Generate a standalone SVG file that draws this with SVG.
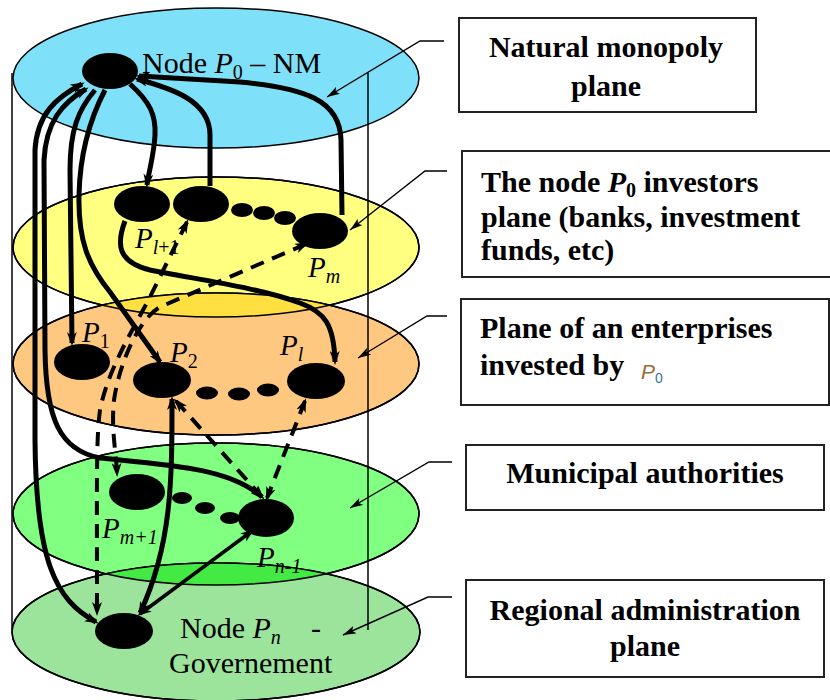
<svg xmlns="http://www.w3.org/2000/svg" width="830" height="700" viewBox="0 0 830 700">
<style>
.pl{stroke:#000;stroke-width:1.5}
.edge{fill:none;stroke:#000;stroke-width:1.5}
.nd{fill:#000}
.c{fill:none;stroke:#000;stroke-width:5}
.d{fill:none;stroke:#000;stroke-width:4;stroke-dasharray:14 9}
.ld{fill:none;stroke:#000;stroke-width:1.4}
.bx{fill:#fff;stroke:#222;stroke-width:2}
.t{font-family:"Liberation Serif","Times New Roman",serif;font-size:30px;fill:#000}
.p{font-family:"Liberation Serif","Times New Roman",serif;font-size:29px;fill:#000}
.b{font-family:"Liberation Serif","Times New Roman",serif;font-size:30px;font-weight:bold;fill:#000}
.i{font-style:italic}
</style>
<defs>
<marker id="ah" viewBox="0 0 14 10" refX="11" refY="5" markerWidth="14" markerHeight="10" markerUnits="userSpaceOnUse" orient="auto-start-reverse"><path d="M0,0 L14,5 L0,10 L4,5 z" fill="#000"/></marker>
<marker id="la" viewBox="0 0 13 8" refX="13" refY="4" markerWidth="13" markerHeight="8" markerUnits="userSpaceOnUse" orient="auto"><path d="M0,0 L13,4 L0,8 L3,4 z" fill="#000"/></marker>
<clipPath id="clipY"><ellipse cx="216" cy="247" rx="203" ry="70"/></clipPath>
<clipPath id="clipG"><ellipse cx="216" cy="514" rx="203" ry="71"/></clipPath>
</defs>

<g id="planes">
<ellipse id="plane-nm" class="pl" cx="216" cy="78" rx="203" ry="70" fill="#7FE0F9"/>
<ellipse id="plane-investors" class="pl" cx="216" cy="247" rx="203" ry="70" fill="#FFFF80"/>
<ellipse id="plane-enterprises" class="pl" cx="216" cy="364" rx="203" ry="71" fill="#FFC880"/>
<ellipse cx="216" cy="364" rx="203" ry="71" fill="#FFE040" clip-path="url(#clipY)"/>
<ellipse class="edge" cx="216" cy="247" rx="203" ry="70"/>
<ellipse class="edge" cx="216" cy="364" rx="203" ry="71"/>
<ellipse id="plane-municipal" class="pl" cx="216" cy="514" rx="203" ry="71" fill="#80FF80"/>
<ellipse id="plane-regional" class="pl" cx="216" cy="632" rx="204" ry="69" fill="#9CE39C"/>
<ellipse cx="216" cy="632" rx="204" ry="69" fill="#44EA44" clip-path="url(#clipG)"/>
<ellipse class="edge" cx="216" cy="514" rx="203" ry="71"/>
<ellipse class="edge" cx="216" cy="632" rx="204" ry="69"/>
<line class="edge" x1="12" y1="73" x2="12" y2="630"/>
<line class="edge" x1="368" y1="73" x2="368" y2="630"/>
</g>

<g id="connectors">
<path class="c" d="M130,84 C150,102 156,115 155,135 C154,155 149,170 147,185" marker-end="url(#ah)"/>
<path class="c" d="M210,186 L210,135 C210,100 170,88 137,79" marker-end="url(#ah)"/>
<path class="c" d="M342,215 L341,140 C340,100 305,88 240,82 L139,76" marker-end="url(#ah)"/>
<path class="c" d="M82,84 C55,98 37,115 35,150 L35,440 C36,560 55,600 96,622" marker-start="url(#ah)" marker-end="url(#ah)"/>
<path class="c" d="M86,89 C62,103 46,122 44,160 L45,350 C46,420 60,450 100,458 C170,465 230,468 262,497" marker-start="url(#ah)" marker-end="url(#ah)"/>
<path class="c" d="M95,90 C78,110 70,130 70,170 L72,343" marker-end="url(#ah)"/>
<path class="c" d="M105,90 C92,115 80,150 79,195 C78,240 88,265 110,292 L160,362" marker-end="url(#ah)"/>
<path class="c" d="M125,221 C116,245 118,262 150,270 C200,280 260,288 300,303 C325,312 334,325 335,362" marker-end="url(#ah)"/>
<path class="c" d="M172,399 C172,480 172,545 140,613" marker-start="url(#ah)" marker-end="url(#ah)"/>
<path class="c" style="stroke-width:3.5" d="M140,614 L252,531" marker-start="url(#ah)" marker-end="url(#ah)"/>
<path class="d" d="M187,222 L150,297 C130,335 108,370 100,410 C96,440 97,480 97,613" marker-start="url(#ah)" marker-end="url(#ah)"/>
<path class="d" d="M306,244 L160,307 C140,318 120,360 114,400 C111,430 116,450 117,474" marker-start="url(#ah)" marker-end="url(#ah)"/>
<path class="d" d="M176,401 L262,497" marker-start="url(#ah)" marker-end="url(#ah)"/>
<path class="d" d="M305,401 L267,498" marker-start="url(#ah)" marker-end="url(#ah)"/>
<polyline class="ld" points="444,41 420,41 327,97" marker-end="url(#la)"/>
<polyline class="ld" points="447,171 425,171 350,230" marker-end="url(#la)"/>
<polyline class="ld" points="447,316 427,316 358,358" marker-end="url(#la)"/>
<polyline class="ld" points="452,462 429,462 350,508" marker-end="url(#la)"/>
<polyline class="ld" points="452,597 428,597 343,635" marker-end="url(#la)"/>
</g>

<g id="node-P0"><ellipse class="nd" cx="110" cy="71" rx="28" ry="18"/>
<text class="t" x="142" y="73">Node <tspan class="i">P</tspan><tspan font-size="20" dy="6">0</tspan><tspan dy="-6"> – NM</tspan></text></g>
<g id="node-Pl1"><ellipse class="nd" cx="142" cy="204" rx="28" ry="18"/>
<text class="p" x="135" y="248"><tspan class="i">P</tspan><tspan font-size="20" dy="6" class="i">l</tspan><tspan font-size="20">+1</tspan></text></g>
<g id="node-Pl2"><ellipse class="nd" cx="201" cy="204" rx="28" ry="18"/></g>
<g id="dots-investors"><ellipse class="nd" cx="242" cy="210" rx="11" ry="7"/><ellipse class="nd" cx="264" cy="213" rx="11" ry="7"/><ellipse class="nd" cx="285" cy="218" rx="11" ry="7"/></g>
<g id="node-Pm"><ellipse class="nd" cx="320" cy="231" rx="28" ry="18"/>
<text class="p" x="308" y="277"><tspan class="i">P</tspan><tspan font-size="20" dy="6" class="i">m</tspan></text></g>
<g id="node-P1"><ellipse class="nd" cx="82" cy="362" rx="28" ry="18"/>
<text class="p" x="82" y="342"><tspan class="i">P</tspan><tspan font-size="20" dy="6">1</tspan></text></g>
<g id="node-P2"><ellipse class="nd" cx="162" cy="380" rx="29" ry="18"/>
<text class="p" x="170" y="362"><tspan class="i">P</tspan><tspan font-size="20" dy="6">2</tspan></text></g>
<g id="dots-enterprises"><ellipse class="nd" cx="207" cy="393" rx="11" ry="6.5"/><ellipse class="nd" cx="239" cy="394" rx="11" ry="6.5"/><ellipse class="nd" cx="268" cy="390" rx="11" ry="6.5"/></g>
<g id="node-Pl"><ellipse class="nd" cx="316" cy="381" rx="29" ry="18"/>
<text class="p" x="280" y="355"><tspan class="i">P</tspan><tspan font-size="20" dy="6" class="i">l</tspan></text></g>
<g id="node-Pm1"><ellipse class="nd" cx="137" cy="492" rx="28" ry="18"/>
<text class="p" x="102" y="538"><tspan class="i">P</tspan><tspan font-size="20" dy="6" class="i">m+1</tspan></text></g>
<g id="dots-municipal"><ellipse class="nd" cx="182" cy="498" rx="10" ry="6"/><ellipse class="nd" cx="205" cy="508" rx="10" ry="6"/><ellipse class="nd" cx="230" cy="518" rx="10" ry="6"/></g>
<g id="node-Pn1"><ellipse class="nd" cx="266" cy="518" rx="28" ry="19"/>
<text class="p" x="257" y="567"><tspan class="i">P</tspan><tspan font-size="20" dy="6" class="i">n-1</tspan></text></g>
<g id="node-Pn"><ellipse class="nd" cx="124" cy="631" rx="29" ry="18"/>
<text class="t" x="180" y="638">Node <tspan class="i">P</tspan><tspan font-size="20" dy="6" class="i">n</tspan></text>
<text class="t" x="311" y="638">-</text>
<text class="t" x="169" y="673">Governement</text></g>

<g id="box-nm"><rect class="bx" x="459" y="18" width="297" height="94"/>
<text class="b" x="606" y="57" text-anchor="middle">Natural monopoly</text>
<text class="b" x="606" y="96" text-anchor="middle">plane</text></g>
<g id="box-investors"><rect class="bx" x="462" y="151" width="374" height="126"/>
<text class="b" x="481" y="192">The node <tspan font-style="italic">P</tspan><tspan font-size="20" dy="5">0</tspan><tspan dy="-5"> investors</tspan></text>
<text class="b" x="481" y="227">plane (banks, investment</text>
<text class="b" x="481" y="260">funds, etc)</text></g>
<g id="box-enterprises"><rect class="bx" x="461" y="299" width="368" height="106"/>
<text class="b" x="480" y="338">Plane of an enterprises</text>
<text class="b" x="480" y="375">invested by</text>
<text x="641" y="379" font-family="Liberation Sans, sans-serif" font-style="italic" font-size="21" fill="#9A6A35">P<tspan font-size="14" dy="4" font-style="normal" fill="#3A6FA8">0</tspan></text></g>
<g id="box-municipal"><rect class="bx" x="466" y="445" width="358" height="65"/>
<text class="b" x="645" y="483" text-anchor="middle">Municipal authorities</text></g>
<g id="box-regional"><rect class="bx" x="466" y="580" width="358" height="97"/>
<text class="b" x="645" y="620" text-anchor="middle">Regional administration</text>
<text class="b" x="645" y="656" text-anchor="middle">plane</text></g>
</svg>
